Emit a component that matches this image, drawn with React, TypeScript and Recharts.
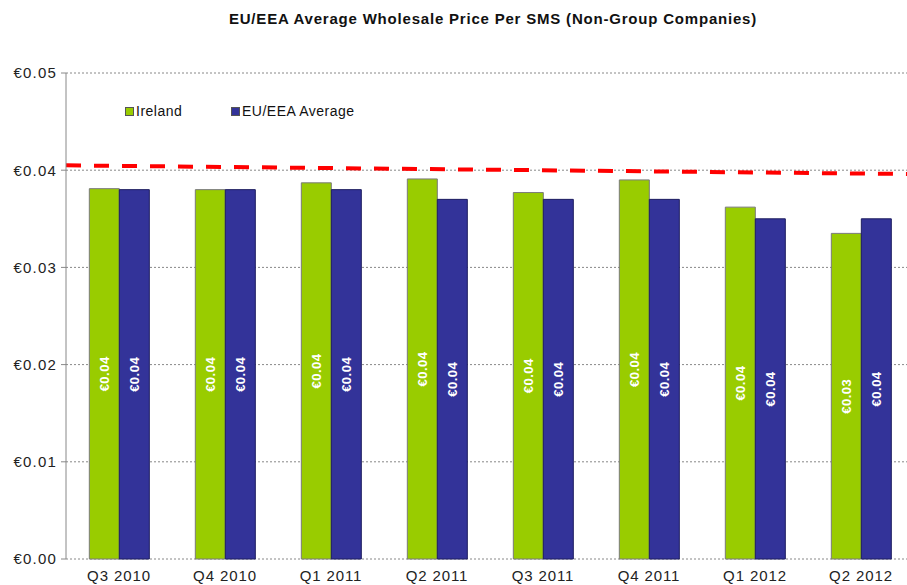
import {
  ComposedChart,
  Bar,
  Line,
  XAxis,
  YAxis,
  CartesianGrid,
  LabelList,
} from 'recharts'

const QUARTERS = ['Q3 2010', 'Q4 2010', 'Q1 2011', 'Q2 2011', 'Q3 2011', 'Q4 2011', 'Q1 2012', 'Q2 2012']
const IRELAND = [0.0381, 0.038, 0.0387, 0.0391, 0.0377, 0.039, 0.0362, 0.0335]
const EU_AVG = [0.038, 0.038, 0.038, 0.037, 0.037, 0.037, 0.035, 0.035]
const CAP_POS = [0, 8]
const CAP = [0.0405, 0.0396]
const Y_TICKS = [0, 0.01, 0.02, 0.03, 0.04, 0.05]
const SERIES = [
  { key: 'ireland', name: 'Ireland' },
  { key: 'eu', name: 'EU/EEA Average' },
]

const data = QUARTERS.map((q, i) => ({ q, ireland: IRELAND[i], eu: EU_AVG[i] }))
const capData = CAP_POS.map((pos, i) => ({ pos, cap: CAP[i] }))

const FONT = 'Arial, "Liberation Sans", sans-serif'
const GREEN = '#99CC00'
const NAVY = '#333399'
const COLORS: Record<string, string> = { ireland: GREEN, eu: NAVY }

const fmt = (v: any) => '€' + Number(v).toFixed(2)

function LegendBox() {
  return (
    <div
      style={{
        position: 'absolute',
        top: 103,
        left: 125,
        display: 'flex',
        fontFamily: FONT,
        fontSize: 14,
        lineHeight: '16px',
        letterSpacing: 0.5,
        color: '#111',
        whiteSpace: 'nowrap',
      }}
    >
      {SERIES.map((s) => (
        <div key={s.key} style={{ display: 'flex', alignItems: 'center', minWidth: 106 }}>
          <span style={{ width: 7, height: 7, background: COLORS[s.key], border: '1px solid #555', marginRight: 2 }} />
          {s.name}
        </div>
      ))}
    </div>
  )
}

export default function App() {
  return (
    <div style={{ position: 'fixed', top: 0, left: 0, width: 907, height: 585, overflow: 'hidden', background: '#fff' }}>
      <div
        style={{
          position: 'absolute',
          top: 10,
          left: 0,
          width: 986,
          textAlign: 'center',
          fontFamily: FONT,
          fontWeight: 'bold',
          fontSize: 15,
          letterSpacing: 0.8,
          color: '#111',
        }}
      >
        EU/EEA Average Wholesale Price Per SMS (Non-Group Companies)
      </div>
      <ComposedChart
        width={920}
        height={585}
        data={data}
        margin={{ top: 73, right: 6, left: 10, bottom: 0 }}
        barCategoryGap="22%"
        barGap={0}
      >
        <CartesianGrid vertical={false} stroke="#888" strokeDasharray="2 2" />
        <XAxis
          xAxisId="cap"
          dataKey="pos"
          type="number"
          domain={[0, 8]}
          ticks={[0, 1, 2, 3, 4, 5, 6, 7, 8]}
          tick={false}
          height={0}
          stroke="#888"
          tickSize={5}
        />
        <XAxis
          dataKey="q"
          height={26}
          axisLine={false}
          tickLine={false}
          tick={{ fontSize: 15, fill: '#222', fontFamily: FONT, letterSpacing: 0.9 }}
          tickMargin={5}
          interval={0}
        />
        <YAxis
          domain={[0, 0.05]}
          ticks={Y_TICKS}
          tickFormatter={fmt}
          width={56}
          stroke="#888"
          tickSize={5}
          tickMargin={4}
          tick={{ fontSize: 15, fill: '#222', fontFamily: FONT, letterSpacing: 1.2 }}
        />
        {SERIES.map((s) => (
          <Bar
            key={s.key}
            dataKey={s.key}
            name={s.name}
            fill={COLORS[s.key]}
            stroke={s.key === 'eu' ? '#1e1e60' : '#7a7a7a'}
            strokeWidth={1}
            isAnimationActive={false}
          >
            <LabelList
              dataKey={s.key}
              position="center"
              angle={-90}
              formatter={fmt}
              fill="#fff"
              style={{ fontSize: 13, fontWeight: 'bold', fontFamily: FONT, letterSpacing: 0.5 }}
            />
          </Bar>
        ))}
        <Line
          xAxisId="cap"
          data={capData}
          dataKey="cap"
          stroke="#FF0000"
          strokeWidth={4}
          strokeDasharray="15 13"
          dot={false}
          activeDot={false}
          isAnimationActive={false}
        />
      </ComposedChart>
      <LegendBox />
    </div>
  )
}
